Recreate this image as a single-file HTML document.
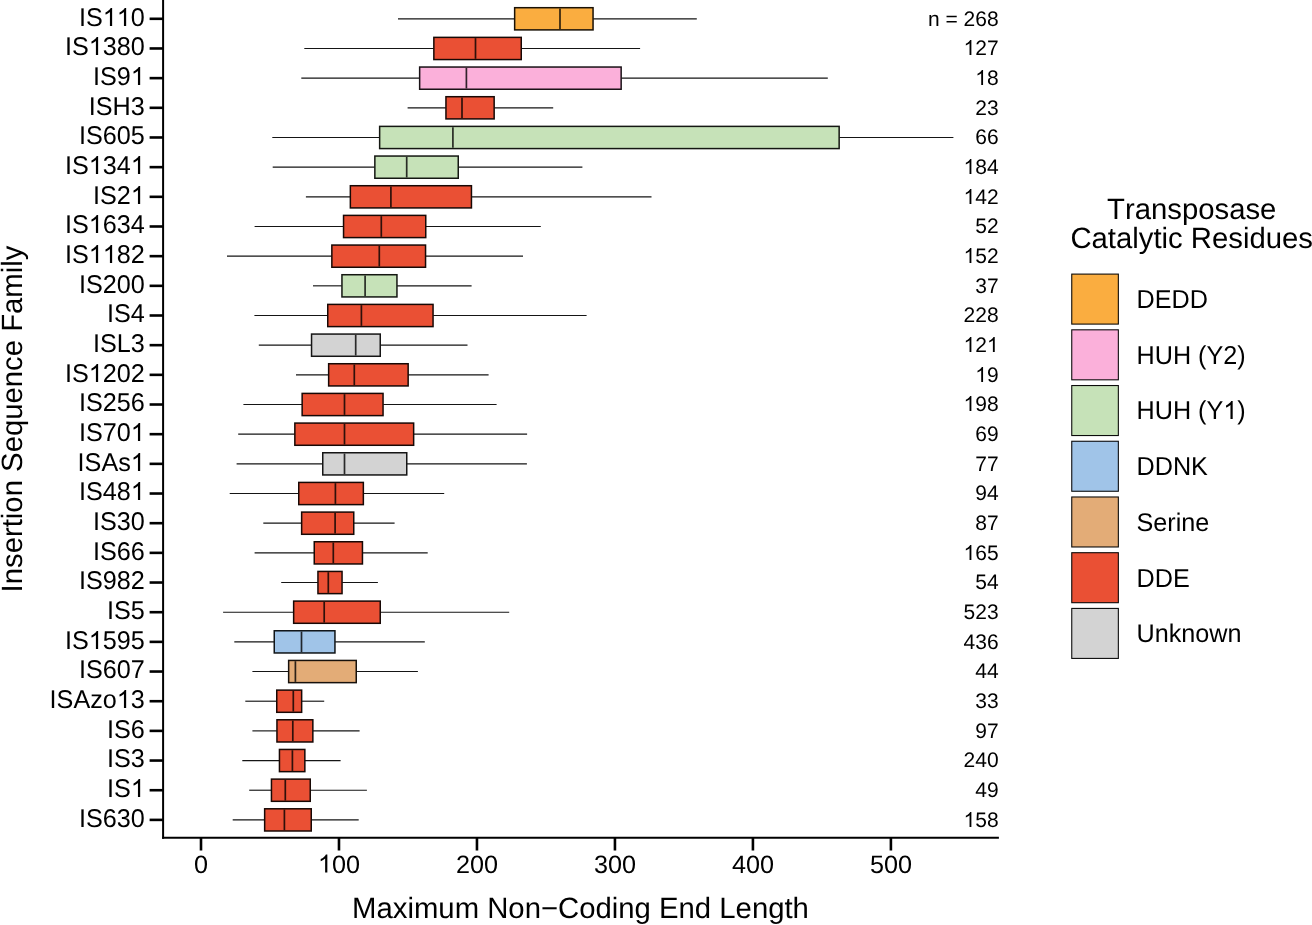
<!DOCTYPE html>
<html><head><meta charset="utf-8"><style>
html,body{margin:0;padding:0;background:#fff;}
body{width:1312px;height:925px;overflow:hidden;}
svg{display:block;will-change:transform;font-family:"Liberation Sans",sans-serif;text-rendering:geometricPrecision;font-kerning:none;font-feature-settings:"kern" 0;}
.w{stroke:#151515;stroke-width:1.15;}
.b{stroke-width:1.5;}
.m{stroke-width:1.7;}
.ax{stroke:#000;stroke-width:2.0;}
.tk{stroke:#000;stroke-width:2.6;}
.k{stroke:#000;stroke-opacity:.95;stroke-width:1.1;}
.yl{font-size:25.2px;text-anchor:end;fill:#000;}
.ct{font-size:21.0px;text-anchor:end;fill:#000;}
.xt{font-size:25.2px;text-anchor:middle;fill:#000;}
.xtitle{font-size:29.3px;text-anchor:middle;fill:#000;}
.ytitle{font-size:29.3px;text-anchor:middle;fill:#000;}
.lt{font-size:29.3px;text-anchor:middle;fill:#000;}
.ll{font-size:25.2px;fill:#000;}
</style></head><body>
<svg width="1312" height="925" viewBox="0 0 1312 925">
<line x1="398" y1="18.8" x2="514.5" y2="18.8" class="w"/>
<line x1="593.2" y1="18.8" x2="696.8" y2="18.8" class="w"/>
<rect x="514.65" y="7.7" width="78.4" height="22.2" fill="#FAAD40" stroke="#191106" class="b"/>
<line x1="560" y1="8.45" x2="560" y2="29.15" stroke="#32230d" class="m"/>
<g transform="translate(144.8 26) scale(1 1.02)"><text class="yl">IS110</text><rect x="-41.31" y="-18.21" width="13.1" height="19.2" fill="#fff"/><path d="M763 0L583 0L583 1147Q518 1085 412 1023Q306 961 222 930L222 1104Q373 1175 486 1276Q599 1377 646 1472L763 1472Z" transform="translate(-42.05 0) scale(0.01230 -0.01206)"/><rect x="-27.29" y="-18.21" width="13.1" height="19.2" fill="#fff"/><path d="M763 0L583 0L583 1147Q518 1085 412 1023Q306 961 222 930L222 1104Q373 1175 486 1276Q599 1377 646 1472L763 1472Z" transform="translate(-28.03 0) scale(0.01230 -0.01206)"/></g>
<line x1="149.6" y1="18.8" x2="163" y2="18.8" class="tk"/>
<g transform="translate(998.6 26) scale(1 1.0)"><text class="ct">n = 268</text></g>
<line x1="304.3" y1="48.47" x2="433.7" y2="48.47" class="w"/>
<line x1="521.4" y1="48.47" x2="640.1" y2="48.47" class="w"/>
<rect x="433.85" y="37.37" width="87.4" height="22.2" fill="#EA5034" stroke="#170805" class="b"/>
<line x1="475.5" y1="38.12" x2="475.5" y2="58.82" stroke="#2f100a" class="m"/>
<g transform="translate(144.8 55) scale(1 1.02)"><text class="yl">IS1380</text><rect x="-55.32" y="-18.21" width="13.1" height="19.2" fill="#fff"/><path d="M763 0L583 0L583 1147Q518 1085 412 1023Q306 961 222 930L222 1104Q373 1175 486 1276Q599 1377 646 1472L763 1472Z" transform="translate(-56.06 0) scale(0.01230 -0.01206)"/></g>
<line x1="149.6" y1="48.47" x2="163" y2="48.47" class="tk"/>
<g transform="translate(998.6 55) scale(1 1.0)"><text class="ct">127</text><rect x="-34.42" y="-15.18" width="10.92" height="16" fill="#fff"/><path d="M763 0L583 0L583 1147Q518 1085 412 1023Q306 961 222 930L222 1104Q373 1175 486 1276Q599 1377 646 1472L763 1472Z" transform="translate(-35.04 0) scale(0.01025 -0.01025)"/></g>
<line x1="301.3" y1="78.14" x2="419.5" y2="78.14" class="w"/>
<line x1="621.3" y1="78.14" x2="827.8" y2="78.14" class="w"/>
<rect x="419.65" y="67.04" width="201.5" height="22.2" fill="#FBB0DA" stroke="#191216" class="b"/>
<line x1="466.4" y1="67.79" x2="466.4" y2="88.49" stroke="#32232c" class="m"/>
<g transform="translate(144.8 85) scale(1 1.02)"><text class="yl">IS91</text><rect x="-13.28" y="-18.21" width="13.1" height="19.2" fill="#fff"/><path d="M763 0L583 0L583 1147Q518 1085 412 1023Q306 961 222 930L222 1104Q373 1175 486 1276Q599 1377 646 1472L763 1472Z" transform="translate(-14.02 0) scale(0.01230 -0.01206)"/></g>
<line x1="149.6" y1="78.14" x2="163" y2="78.14" class="tk"/>
<g transform="translate(998.6 85) scale(1 1.0)"><text class="ct">18</text><rect x="-22.74" y="-15.18" width="10.92" height="16" fill="#fff"/><path d="M763 0L583 0L583 1147Q518 1085 412 1023Q306 961 222 930L222 1104Q373 1175 486 1276Q599 1377 646 1472L763 1472Z" transform="translate(-23.36 0) scale(0.01025 -0.01025)"/></g>
<line x1="407.6" y1="107.81" x2="445.8" y2="107.81" class="w"/>
<line x1="494.3" y1="107.81" x2="553.2" y2="107.81" class="w"/>
<rect x="445.95" y="96.71" width="48.2" height="22.2" fill="#EA5034" stroke="#170805" class="b"/>
<line x1="462" y1="97.46" x2="462" y2="118.16" stroke="#2f100a" class="m"/>
<g transform="translate(144.8 115) scale(1 1.02)"><text class="yl">ISH3</text></g>
<line x1="149.6" y1="107.81" x2="163" y2="107.81" class="tk"/>
<g transform="translate(998.6 115) scale(1 1.0)"><text class="ct">23</text></g>
<line x1="272.3" y1="137.48" x2="379.5" y2="137.48" class="w"/>
<line x1="839.3" y1="137.48" x2="953.4" y2="137.48" class="w"/>
<rect x="379.65" y="126.38" width="459.5" height="22.2" fill="#C6E2B8" stroke="#141712" class="b"/>
<line x1="452.9" y1="127.13" x2="452.9" y2="147.83" stroke="#282d25" class="m"/>
<g transform="translate(144.8 144) scale(1 1.02)"><text class="yl">IS605</text></g>
<line x1="149.6" y1="137.48" x2="163" y2="137.48" class="tk"/>
<g transform="translate(998.6 144) scale(1 1.0)"><text class="ct">66</text></g>
<line x1="272.7" y1="167.15" x2="374.7" y2="167.15" class="w"/>
<line x1="458.4" y1="167.15" x2="582.4" y2="167.15" class="w"/>
<rect x="374.85" y="156.05" width="83.4" height="22.2" fill="#C6E2B8" stroke="#141712" class="b"/>
<line x1="406.7" y1="156.8" x2="406.7" y2="177.5" stroke="#282d25" class="m"/>
<g transform="translate(144.8 174) scale(1 1.02)"><text class="yl">IS1341</text><rect x="-55.32" y="-18.21" width="13.1" height="19.2" fill="#fff"/><path d="M763 0L583 0L583 1147Q518 1085 412 1023Q306 961 222 930L222 1104Q373 1175 486 1276Q599 1377 646 1472L763 1472Z" transform="translate(-56.06 0) scale(0.01230 -0.01206)"/><rect x="-13.28" y="-18.21" width="13.1" height="19.2" fill="#fff"/><path d="M763 0L583 0L583 1147Q518 1085 412 1023Q306 961 222 930L222 1104Q373 1175 486 1276Q599 1377 646 1472L763 1472Z" transform="translate(-14.02 0) scale(0.01230 -0.01206)"/></g>
<line x1="149.6" y1="167.15" x2="163" y2="167.15" class="tk"/>
<g transform="translate(998.6 174) scale(1 1.0)"><text class="ct">184</text><rect x="-34.42" y="-15.18" width="10.92" height="16" fill="#fff"/><path d="M763 0L583 0L583 1147Q518 1085 412 1023Q306 961 222 930L222 1104Q373 1175 486 1276Q599 1377 646 1472L763 1472Z" transform="translate(-35.04 0) scale(0.01025 -0.01025)"/></g>
<line x1="305.9" y1="196.82" x2="350.2" y2="196.82" class="w"/>
<line x1="471.6" y1="196.82" x2="651.5" y2="196.82" class="w"/>
<rect x="350.35" y="185.72" width="121.1" height="22.2" fill="#EA5034" stroke="#170805" class="b"/>
<line x1="390.9" y1="186.47" x2="390.9" y2="207.17" stroke="#2f100a" class="m"/>
<g transform="translate(144.8 204) scale(1 1.02)"><text class="yl">IS21</text><rect x="-13.28" y="-18.21" width="13.1" height="19.2" fill="#fff"/><path d="M763 0L583 0L583 1147Q518 1085 412 1023Q306 961 222 930L222 1104Q373 1175 486 1276Q599 1377 646 1472L763 1472Z" transform="translate(-14.02 0) scale(0.01230 -0.01206)"/></g>
<line x1="149.6" y1="196.82" x2="163" y2="196.82" class="tk"/>
<g transform="translate(998.6 204) scale(1 1.0)"><text class="ct">142</text><rect x="-34.42" y="-15.18" width="10.92" height="16" fill="#fff"/><path d="M763 0L583 0L583 1147Q518 1085 412 1023Q306 961 222 930L222 1104Q373 1175 486 1276Q599 1377 646 1472L763 1472Z" transform="translate(-35.04 0) scale(0.01025 -0.01025)"/></g>
<line x1="254.6" y1="226.49" x2="343.4" y2="226.49" class="w"/>
<line x1="425.9" y1="226.49" x2="540.8" y2="226.49" class="w"/>
<rect x="343.55" y="215.39" width="82.2" height="22.2" fill="#EA5034" stroke="#170805" class="b"/>
<line x1="381.3" y1="216.14" x2="381.3" y2="236.84" stroke="#2f100a" class="m"/>
<g transform="translate(144.8 233) scale(1 1.02)"><text class="yl">IS1634</text><rect x="-55.32" y="-18.21" width="13.1" height="19.2" fill="#fff"/><path d="M763 0L583 0L583 1147Q518 1085 412 1023Q306 961 222 930L222 1104Q373 1175 486 1276Q599 1377 646 1472L763 1472Z" transform="translate(-56.06 0) scale(0.01230 -0.01206)"/></g>
<line x1="149.6" y1="226.49" x2="163" y2="226.49" class="tk"/>
<g transform="translate(998.6 233) scale(1 1.0)"><text class="ct">52</text></g>
<line x1="227" y1="256.16" x2="331.7" y2="256.16" class="w"/>
<line x1="425.7" y1="256.16" x2="523" y2="256.16" class="w"/>
<rect x="331.85" y="245.06" width="93.7" height="22.2" fill="#EA5034" stroke="#170805" class="b"/>
<line x1="379.3" y1="245.81" x2="379.3" y2="266.51" stroke="#2f100a" class="m"/>
<g transform="translate(144.8 263) scale(1 1.02)"><text class="yl">IS1182</text><rect x="-55.32" y="-18.21" width="13.1" height="19.2" fill="#fff"/><path d="M763 0L583 0L583 1147Q518 1085 412 1023Q306 961 222 930L222 1104Q373 1175 486 1276Q599 1377 646 1472L763 1472Z" transform="translate(-56.06 0) scale(0.01230 -0.01206)"/><rect x="-41.31" y="-18.21" width="13.1" height="19.2" fill="#fff"/><path d="M763 0L583 0L583 1147Q518 1085 412 1023Q306 961 222 930L222 1104Q373 1175 486 1276Q599 1377 646 1472L763 1472Z" transform="translate(-42.05 0) scale(0.01230 -0.01206)"/></g>
<line x1="149.6" y1="256.16" x2="163" y2="256.16" class="tk"/>
<g transform="translate(998.6 263) scale(1 1.0)"><text class="ct">152</text><rect x="-34.42" y="-15.18" width="10.92" height="16" fill="#fff"/><path d="M763 0L583 0L583 1147Q518 1085 412 1023Q306 961 222 930L222 1104Q373 1175 486 1276Q599 1377 646 1472L763 1472Z" transform="translate(-35.04 0) scale(0.01025 -0.01025)"/></g>
<line x1="313" y1="285.83" x2="341.8" y2="285.83" class="w"/>
<line x1="397.1" y1="285.83" x2="471.6" y2="285.83" class="w"/>
<rect x="341.95" y="274.73" width="55" height="22.2" fill="#C6E2B8" stroke="#141712" class="b"/>
<line x1="365.1" y1="275.48" x2="365.1" y2="296.18" stroke="#282d25" class="m"/>
<g transform="translate(144.8 293) scale(1 1.02)"><text class="yl">IS200</text></g>
<line x1="149.6" y1="285.83" x2="163" y2="285.83" class="tk"/>
<g transform="translate(998.6 293) scale(1 1.0)"><text class="ct">37</text></g>
<line x1="254.4" y1="315.5" x2="327.6" y2="315.5" class="w"/>
<line x1="433.2" y1="315.5" x2="586.6" y2="315.5" class="w"/>
<rect x="327.75" y="304.4" width="105.3" height="22.2" fill="#EA5034" stroke="#170805" class="b"/>
<line x1="361.4" y1="305.15" x2="361.4" y2="325.85" stroke="#2f100a" class="m"/>
<g transform="translate(144.8 322) scale(1 1.02)"><text class="yl">IS4</text></g>
<line x1="149.6" y1="315.5" x2="163" y2="315.5" class="tk"/>
<g transform="translate(998.6 322) scale(1 1.0)"><text class="ct">228</text></g>
<line x1="258.8" y1="345.17" x2="311.4" y2="345.17" class="w"/>
<line x1="380.4" y1="345.17" x2="467.5" y2="345.17" class="w"/>
<rect x="311.55" y="334.07" width="68.7" height="22.2" fill="#D3D3D3" stroke="#151515" class="b"/>
<line x1="355.7" y1="334.82" x2="355.7" y2="355.52" stroke="#2a2a2a" class="m"/>
<g transform="translate(144.8 352) scale(1 1.02)"><text class="yl">ISL3</text></g>
<line x1="149.6" y1="345.17" x2="163" y2="345.17" class="tk"/>
<g transform="translate(998.6 352) scale(1 1.0)"><text class="ct">121</text><rect x="-34.42" y="-15.18" width="10.92" height="16" fill="#fff"/><path d="M763 0L583 0L583 1147Q518 1085 412 1023Q306 961 222 930L222 1104Q373 1175 486 1276Q599 1377 646 1472L763 1472Z" transform="translate(-35.04 0) scale(0.01025 -0.01025)"/><rect x="-11.06" y="-15.18" width="10.92" height="16" fill="#fff"/><path d="M763 0L583 0L583 1147Q518 1085 412 1023Q306 961 222 930L222 1104Q373 1175 486 1276Q599 1377 646 1472L763 1472Z" transform="translate(-11.68 0) scale(0.01025 -0.01025)"/></g>
<line x1="296" y1="374.84" x2="328.5" y2="374.84" class="w"/>
<line x1="408.3" y1="374.84" x2="488.6" y2="374.84" class="w"/>
<rect x="328.65" y="363.74" width="79.5" height="22.2" fill="#EA5034" stroke="#170805" class="b"/>
<line x1="354.3" y1="364.49" x2="354.3" y2="385.19" stroke="#2f100a" class="m"/>
<g transform="translate(144.8 382) scale(1 1.02)"><text class="yl">IS1202</text><rect x="-55.32" y="-18.21" width="13.1" height="19.2" fill="#fff"/><path d="M763 0L583 0L583 1147Q518 1085 412 1023Q306 961 222 930L222 1104Q373 1175 486 1276Q599 1377 646 1472L763 1472Z" transform="translate(-56.06 0) scale(0.01230 -0.01206)"/></g>
<line x1="149.6" y1="374.84" x2="163" y2="374.84" class="tk"/>
<g transform="translate(998.6 382) scale(1 1.0)"><text class="ct">19</text><rect x="-22.74" y="-15.18" width="10.92" height="16" fill="#fff"/><path d="M763 0L583 0L583 1147Q518 1085 412 1023Q306 961 222 930L222 1104Q373 1175 486 1276Q599 1377 646 1472L763 1472Z" transform="translate(-23.36 0) scale(0.01025 -0.01025)"/></g>
<line x1="243.4" y1="404.51" x2="302" y2="404.51" class="w"/>
<line x1="383.2" y1="404.51" x2="496.6" y2="404.51" class="w"/>
<rect x="302.15" y="393.41" width="80.9" height="22.2" fill="#EA5034" stroke="#170805" class="b"/>
<line x1="344.5" y1="394.16" x2="344.5" y2="414.86" stroke="#2f100a" class="m"/>
<g transform="translate(144.8 411) scale(1 1.02)"><text class="yl">IS256</text></g>
<line x1="149.6" y1="404.51" x2="163" y2="404.51" class="tk"/>
<g transform="translate(998.6 411) scale(1 1.0)"><text class="ct">198</text><rect x="-34.42" y="-15.18" width="10.92" height="16" fill="#fff"/><path d="M763 0L583 0L583 1147Q518 1085 412 1023Q306 961 222 930L222 1104Q373 1175 486 1276Q599 1377 646 1472L763 1472Z" transform="translate(-35.04 0) scale(0.01025 -0.01025)"/></g>
<line x1="238.2" y1="434.18" x2="294.7" y2="434.18" class="w"/>
<line x1="413.8" y1="434.18" x2="527.1" y2="434.18" class="w"/>
<rect x="294.85" y="423.08" width="118.8" height="22.2" fill="#EA5034" stroke="#170805" class="b"/>
<line x1="344.5" y1="423.83" x2="344.5" y2="444.53" stroke="#2f100a" class="m"/>
<g transform="translate(144.8 441) scale(1 1.02)"><text class="yl">IS701</text><rect x="-13.28" y="-18.21" width="13.1" height="19.2" fill="#fff"/><path d="M763 0L583 0L583 1147Q518 1085 412 1023Q306 961 222 930L222 1104Q373 1175 486 1276Q599 1377 646 1472L763 1472Z" transform="translate(-14.02 0) scale(0.01230 -0.01206)"/></g>
<line x1="149.6" y1="434.18" x2="163" y2="434.18" class="tk"/>
<g transform="translate(998.6 441) scale(1 1.0)"><text class="ct">69</text></g>
<line x1="236.6" y1="463.85" x2="322.6" y2="463.85" class="w"/>
<line x1="406.9" y1="463.85" x2="526.9" y2="463.85" class="w"/>
<rect x="322.75" y="452.75" width="84" height="22.2" fill="#D3D3D3" stroke="#151515" class="b"/>
<line x1="344.5" y1="453.5" x2="344.5" y2="474.2" stroke="#2a2a2a" class="m"/>
<g transform="translate(144.8 471) scale(1 1.02)"><text class="yl">ISAs1</text><rect x="-13.28" y="-18.21" width="13.1" height="19.2" fill="#fff"/><path d="M763 0L583 0L583 1147Q518 1085 412 1023Q306 961 222 930L222 1104Q373 1175 486 1276Q599 1377 646 1472L763 1472Z" transform="translate(-14.02 0) scale(0.01230 -0.01206)"/></g>
<line x1="149.6" y1="463.85" x2="163" y2="463.85" class="tk"/>
<g transform="translate(998.6 471) scale(1 1.0)"><text class="ct">77</text></g>
<line x1="229.7" y1="493.52" x2="298.6" y2="493.52" class="w"/>
<line x1="363.5" y1="493.52" x2="444.2" y2="493.52" class="w"/>
<rect x="298.75" y="482.42" width="64.6" height="22.2" fill="#EA5034" stroke="#170805" class="b"/>
<line x1="335.4" y1="483.17" x2="335.4" y2="503.87" stroke="#2f100a" class="m"/>
<g transform="translate(144.8 500) scale(1 1.02)"><text class="yl">IS481</text><rect x="-13.28" y="-18.21" width="13.1" height="19.2" fill="#fff"/><path d="M763 0L583 0L583 1147Q518 1085 412 1023Q306 961 222 930L222 1104Q373 1175 486 1276Q599 1377 646 1472L763 1472Z" transform="translate(-14.02 0) scale(0.01230 -0.01206)"/></g>
<line x1="149.6" y1="493.52" x2="163" y2="493.52" class="tk"/>
<g transform="translate(998.6 500) scale(1 1.0)"><text class="ct">94</text></g>
<line x1="263.3" y1="523.19" x2="301.5" y2="523.19" class="w"/>
<line x1="353.9" y1="523.19" x2="394.6" y2="523.19" class="w"/>
<rect x="301.65" y="512.09" width="52.1" height="22.2" fill="#EA5034" stroke="#170805" class="b"/>
<line x1="335.1" y1="512.84" x2="335.1" y2="533.54" stroke="#2f100a" class="m"/>
<g transform="translate(144.8 530) scale(1 1.02)"><text class="yl">IS30</text></g>
<line x1="149.6" y1="523.19" x2="163" y2="523.19" class="tk"/>
<g transform="translate(998.6 530) scale(1 1.0)"><text class="ct">87</text></g>
<line x1="254.6" y1="552.86" x2="314.1" y2="552.86" class="w"/>
<line x1="362.6" y1="552.86" x2="427.7" y2="552.86" class="w"/>
<rect x="314.25" y="541.76" width="48.2" height="22.2" fill="#EA5034" stroke="#170805" class="b"/>
<line x1="333.3" y1="542.51" x2="333.3" y2="563.21" stroke="#2f100a" class="m"/>
<g transform="translate(144.8 560) scale(1 1.02)"><text class="yl">IS66</text></g>
<line x1="149.6" y1="552.86" x2="163" y2="552.86" class="tk"/>
<g transform="translate(998.6 560) scale(1 1.0)"><text class="ct">165</text><rect x="-34.42" y="-15.18" width="10.92" height="16" fill="#fff"/><path d="M763 0L583 0L583 1147Q518 1085 412 1023Q306 961 222 930L222 1104Q373 1175 486 1276Q599 1377 646 1472L763 1472Z" transform="translate(-35.04 0) scale(0.01025 -0.01025)"/></g>
<line x1="281.2" y1="582.53" x2="317.8" y2="582.53" class="w"/>
<line x1="342.2" y1="582.53" x2="377.9" y2="582.53" class="w"/>
<rect x="317.95" y="571.43" width="24.1" height="22.2" fill="#EA5034" stroke="#170805" class="b"/>
<line x1="328.3" y1="572.18" x2="328.3" y2="592.88" stroke="#2f100a" class="m"/>
<g transform="translate(144.8 589) scale(1 1.02)"><text class="yl">IS982</text></g>
<line x1="149.6" y1="582.53" x2="163" y2="582.53" class="tk"/>
<g transform="translate(998.6 589) scale(1 1.0)"><text class="ct">54</text></g>
<line x1="223.1" y1="612.2" x2="293.5" y2="612.2" class="w"/>
<line x1="380.4" y1="612.2" x2="509.2" y2="612.2" class="w"/>
<rect x="293.65" y="601.1" width="86.6" height="22.2" fill="#EA5034" stroke="#170805" class="b"/>
<line x1="324.2" y1="601.85" x2="324.2" y2="622.55" stroke="#2f100a" class="m"/>
<g transform="translate(144.8 619) scale(1 1.02)"><text class="yl">IS5</text></g>
<line x1="149.6" y1="612.2" x2="163" y2="612.2" class="tk"/>
<g transform="translate(998.6 619) scale(1 1.0)"><text class="ct">523</text></g>
<line x1="234.3" y1="641.87" x2="274.1" y2="641.87" class="w"/>
<line x1="335.1" y1="641.87" x2="424.8" y2="641.87" class="w"/>
<rect x="274.25" y="630.77" width="60.7" height="22.2" fill="#A0C4E8" stroke="#101417" class="b"/>
<line x1="301.5" y1="631.52" x2="301.5" y2="652.22" stroke="#20272e" class="m"/>
<g transform="translate(144.8 649) scale(1 1.02)"><text class="yl">IS1595</text><rect x="-55.32" y="-18.21" width="13.1" height="19.2" fill="#fff"/><path d="M763 0L583 0L583 1147Q518 1085 412 1023Q306 961 222 930L222 1104Q373 1175 486 1276Q599 1377 646 1472L763 1472Z" transform="translate(-56.06 0) scale(0.01230 -0.01206)"/></g>
<line x1="149.6" y1="641.87" x2="163" y2="641.87" class="tk"/>
<g transform="translate(998.6 649) scale(1 1.0)"><text class="ct">436</text></g>
<line x1="252.4" y1="671.54" x2="288.5" y2="671.54" class="w"/>
<line x1="356.4" y1="671.54" x2="417.9" y2="671.54" class="w"/>
<rect x="288.65" y="660.44" width="67.6" height="22.2" fill="#E3AC77" stroke="#17110c" class="b"/>
<line x1="295.4" y1="661.19" x2="295.4" y2="681.89" stroke="#2d2218" class="m"/>
<g transform="translate(144.8 678) scale(1 1.02)"><text class="yl">IS607</text></g>
<line x1="149.6" y1="671.54" x2="163" y2="671.54" class="tk"/>
<g transform="translate(998.6 678) scale(1 1.0)"><text class="ct">44</text></g>
<line x1="245.3" y1="701.21" x2="276.6" y2="701.21" class="w"/>
<line x1="301.8" y1="701.21" x2="324.2" y2="701.21" class="w"/>
<rect x="276.75" y="690.11" width="24.9" height="22.2" fill="#EA5034" stroke="#170805" class="b"/>
<line x1="293.3" y1="690.86" x2="293.3" y2="711.56" stroke="#2f100a" class="m"/>
<g transform="translate(144.8 708) scale(1 1.02)"><text class="yl">ISAzo13</text><rect x="-27.29" y="-18.21" width="13.1" height="19.2" fill="#fff"/><path d="M763 0L583 0L583 1147Q518 1085 412 1023Q306 961 222 930L222 1104Q373 1175 486 1276Q599 1377 646 1472L763 1472Z" transform="translate(-28.03 0) scale(0.01230 -0.01206)"/></g>
<line x1="149.6" y1="701.21" x2="163" y2="701.21" class="tk"/>
<g transform="translate(998.6 708) scale(1 1.0)"><text class="ct">33</text></g>
<line x1="252.4" y1="730.88" x2="276.8" y2="730.88" class="w"/>
<line x1="313" y1="730.88" x2="359.6" y2="730.88" class="w"/>
<rect x="276.95" y="719.78" width="35.9" height="22.2" fill="#EA5034" stroke="#170805" class="b"/>
<line x1="292.8" y1="720.53" x2="292.8" y2="741.23" stroke="#2f100a" class="m"/>
<g transform="translate(144.8 738) scale(1 1.02)"><text class="yl">IS6</text></g>
<line x1="149.6" y1="730.88" x2="163" y2="730.88" class="tk"/>
<g transform="translate(998.6 738) scale(1 1.0)"><text class="ct">97</text></g>
<line x1="242.3" y1="760.55" x2="279.3" y2="760.55" class="w"/>
<line x1="305" y1="760.55" x2="340.6" y2="760.55" class="w"/>
<rect x="279.45" y="749.45" width="25.4" height="22.2" fill="#EA5034" stroke="#170805" class="b"/>
<line x1="292.4" y1="750.2" x2="292.4" y2="770.9" stroke="#2f100a" class="m"/>
<g transform="translate(144.8 767) scale(1 1.02)"><text class="yl">IS3</text></g>
<line x1="149.6" y1="760.55" x2="163" y2="760.55" class="tk"/>
<g transform="translate(998.6 767) scale(1 1.0)"><text class="ct">240</text></g>
<line x1="249.2" y1="790.22" x2="271.3" y2="790.22" class="w"/>
<line x1="310.4" y1="790.22" x2="366.9" y2="790.22" class="w"/>
<rect x="271.45" y="779.12" width="38.8" height="22.2" fill="#EA5034" stroke="#170805" class="b"/>
<line x1="285.3" y1="779.87" x2="285.3" y2="800.57" stroke="#2f100a" class="m"/>
<g transform="translate(144.8 797) scale(1 1.02)"><text class="yl">IS1</text><rect x="-13.28" y="-18.21" width="13.1" height="19.2" fill="#fff"/><path d="M763 0L583 0L583 1147Q518 1085 412 1023Q306 961 222 930L222 1104Q373 1175 486 1276Q599 1377 646 1472L763 1472Z" transform="translate(-14.02 0) scale(0.01230 -0.01206)"/></g>
<line x1="149.6" y1="790.22" x2="163" y2="790.22" class="tk"/>
<g transform="translate(998.6 797) scale(1 1.0)"><text class="ct">49</text></g>
<line x1="232.7" y1="819.89" x2="264.5" y2="819.89" class="w"/>
<line x1="311.4" y1="819.89" x2="358.7" y2="819.89" class="w"/>
<rect x="264.65" y="808.79" width="46.6" height="22.2" fill="#EA5034" stroke="#170805" class="b"/>
<line x1="284.4" y1="809.54" x2="284.4" y2="830.24" stroke="#2f100a" class="m"/>
<g transform="translate(144.8 827) scale(1 1.02)"><text class="yl">IS630</text></g>
<line x1="149.6" y1="819.89" x2="163" y2="819.89" class="tk"/>
<g transform="translate(998.6 827) scale(1 1.0)"><text class="ct">158</text><rect x="-34.42" y="-15.18" width="10.92" height="16" fill="#fff"/><path d="M763 0L583 0L583 1147Q518 1085 412 1023Q306 961 222 930L222 1104Q373 1175 486 1276Q599 1377 646 1472L763 1472Z" transform="translate(-35.04 0) scale(0.01025 -0.01025)"/></g>
<line x1="163.1" y1="-5" x2="163.1" y2="838.7" class="ax"/>
<line x1="162.1" y1="837.7" x2="998.9" y2="837.7" class="ax"/>
<line x1="201" y1="837.7" x2="201" y2="850.5" class="tk"/>
<g transform="translate(201 872.6) scale(1 1.0)"><text class="xt">0</text></g>
<line x1="338.98" y1="837.7" x2="338.98" y2="850.5" class="tk"/>
<g transform="translate(338.98 872.6) scale(1 1.0)"><text class="xt">100</text><rect x="-20.28" y="-18.21" width="13.1" height="19.2" fill="#fff"/><path d="M763 0L583 0L583 1147Q518 1085 412 1023Q306 961 222 930L222 1104Q373 1175 486 1276Q599 1377 646 1472L763 1472Z" transform="translate(-21.02 0) scale(0.01230 -0.01230)"/></g>
<line x1="476.96" y1="837.7" x2="476.96" y2="850.5" class="tk"/>
<g transform="translate(476.96 872.6) scale(1 1.0)"><text class="xt">200</text></g>
<line x1="614.94" y1="837.7" x2="614.94" y2="850.5" class="tk"/>
<g transform="translate(614.94 872.6) scale(1 1.0)"><text class="xt">300</text></g>
<line x1="752.92" y1="837.7" x2="752.92" y2="850.5" class="tk"/>
<g transform="translate(752.92 872.6) scale(1 1.0)"><text class="xt">400</text></g>
<line x1="890.9" y1="837.7" x2="890.9" y2="850.5" class="tk"/>
<g transform="translate(890.9 872.6) scale(1 1.0)"><text class="xt">500</text></g>
<g transform="translate(580.5 918) scale(1 1.0)"><text class="xtitle">Maximum Non−Coding End Length</text></g>
<text transform="translate(22 419) rotate(-90) scale(1 1.0)" class="ytitle">Insertion Sequence Family</text>
<g transform="translate(1191.7 219) scale(1 1.0)"><text class="lt">Transposase</text></g>
<g transform="translate(1191.7 248) scale(1 1.0)"><text class="lt">Catalytic Residues</text></g>
<rect x="1071.75" y="274.1" width="46.6" height="50" fill="#FAAD40" class="k"/>
<g transform="translate(1136.5 308) scale(1 1.03)"><text class="ll">DEDD</text></g>
<rect x="1071.75" y="329.82" width="46.6" height="50" fill="#FBB0DA" class="k"/>
<g transform="translate(1136.5 364) scale(1 1.03)"><text class="ll">HUH (Y2)</text></g>
<rect x="1071.75" y="385.54" width="46.6" height="50" fill="#C6E2B8" class="k"/>
<g transform="translate(1136.5 419) scale(1 1.03)"><text class="ll">HUH (Y1)</text><rect x="87.54" y="-18.21" width="13.1" height="19.2" fill="#fff"/><path d="M763 0L583 0L583 1147Q518 1085 412 1023Q306 961 222 930L222 1104Q373 1175 486 1276Q599 1377 646 1472L763 1472Z" transform="translate(86.8 0) scale(0.01230 -0.01195)"/></g>
<rect x="1071.75" y="441.26" width="46.6" height="50" fill="#A0C4E8" class="k"/>
<g transform="translate(1136.5 475) scale(1 1.03)"><text class="ll">DDNK</text></g>
<rect x="1071.75" y="496.98" width="46.6" height="50" fill="#E3AC77" class="k"/>
<g transform="translate(1136.5 531) scale(1 1.015)"><text class="ll">Serine</text></g>
<rect x="1071.75" y="552.7" width="46.6" height="50" fill="#EA5034" class="k"/>
<g transform="translate(1136.5 587) scale(1 1.03)"><text class="ll">DDE</text></g>
<rect x="1071.75" y="608.42" width="46.6" height="50" fill="#D3D3D3" class="k"/>
<g transform="translate(1136.5 642) scale(1 1.015)"><text class="ll">Unknown</text></g>
</svg>
</body></html>
